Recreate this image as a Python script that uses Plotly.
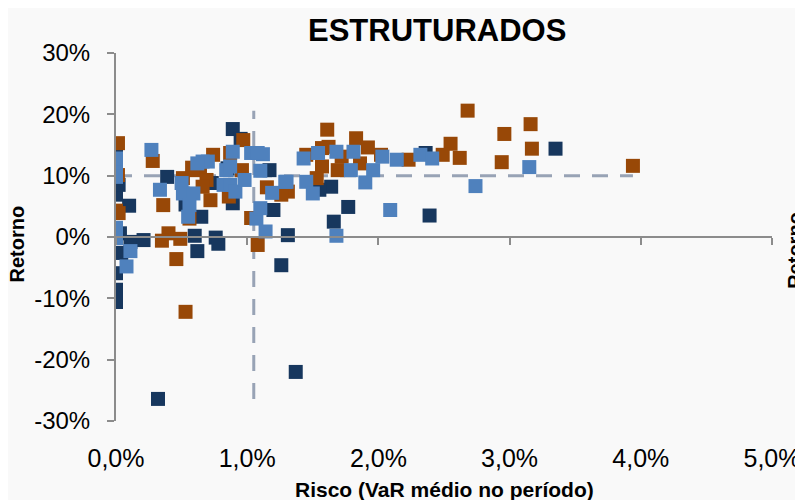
import plotly.graph_objects as go

# Risk (VaR, %) and return (%) per fund, three groups
dark_x = [0.89, 0.95, 0.0, 0.39, 0.0, 0.10, 0.03, 0.11, 0.21, 0.04, 0.60, 0.62, 0.76, 0.78,
          1.26, 1.31, 1.20, 0.53, 0.65, 0.73, 0.89, 1.17, 1.64, 1.55, 1.77, 2.39, 1.66,
          2.36, 3.35, 0.0, 0.0, 0.0, 0.32, 1.37, 0.0, 0.0, 0.02, 0.85]
dark_y = [17.6, 16.0, 14.7, 9.8, 6.9, 5.1, 0.6, -0.8, -0.5, -2.6, 0.2, -2.3, -0.1, -1.1,
          -4.6, 0.3, 4.4, 5.3, 3.3, 8.8, 5.5, 10.9, 8.2, 7.7, 4.9, 3.5, 2.5,
          13.7, 14.4, -5.9, -8.6, -10.6, -26.4, -22.0, 1.0, 12.5, 8.5, 11.2]

orange_x = [2.68, 3.16, 2.96, 2.55, 2.49, 2.62, 3.17, 2.94, 3.94, 1.61, 1.83, 1.92, 1.62,
            1.57, 1.45, 1.72, 1.86, 1.57, 1.69, 2.02, 2.23, 1.53, 1.31, 1.15, 1.26, 1.08,
            1.03, 0.96, 0.97, 0.86, 0.87, 0.74, 0.61, 0.51, 0.56, 0.72, 0.69, 0.66, 0.64,
            0.58, 0.015, 0.28, 0.015, 0.36, 0.0, 0.40, 0.35, 0.49, 0.46, 0.53, 0.02]
orange_y = [20.6, 18.4, 16.8, 15.2, 13.4, 12.9, 14.4, 12.2, 11.6, 17.5, 16.1, 14.6, 14.7,
            14.5, 13.4, 13.1, 12.0, 11.5, 10.9, 13.4, 12.6, 9.6, 7.4, 8.1, 6.9, -1.3,
            3.1, 10.9, 15.8, 6.6, 13.7, 13.4, 10.9, 9.6, 3.0, 6.0, 9.3, 8.2, 11.5,
            11.3, 15.3, 12.4, 10.1, 5.2, 4.3, 0.6, -0.6, -0.3, -3.6, -12.2, 3.9]

light_x = [0.27, 0.0, 0.0, 0.335, 0.0, 0.0, 0.11, 0.08, 0.70, 0.66, 0.50, 0.51, 0.59,
           0.56, 0.55, 0.82, 0.87, 0.91, 0.84, 0.87, 0.89, 0.98, 1.03, 1.12, 1.10, 1.19,
           1.29, 1.07, 1.14, 1.10, 1.43, 1.54, 1.68, 1.81, 1.79, 1.96, 2.03, 2.14, 2.32,
           2.41, 1.90, 1.45, 1.30, 1.50, 2.09, 1.68, 1.08, 3.15, 2.74, 0.0, 0.62]
light_y = [14.2, 11.5, 9.8, 7.7, 1.5, -0.2, -2.3, -4.8, 12.3, 12.3, 8.8, 7.1, 7.1,
           5.2, 3.3, 8.5, 8.5, 7.4, 10.9, 11.5, 13.9, 9.3, 13.7, 13.5, 10.8, 7.2,
           9.0, 3.0, 0.9, 4.7, 12.8, 13.7, 13.9, 13.9, 10.9, 10.9, 13.1, 12.6, 13.4,
           12.8, 8.9, 9.0, 9.0, 7.1, 4.4, 0.2, 13.7, 11.4, 8.3, 12.8, 12.0]

# average lines (dashed), spanning the data range
avg_risk = 1.05
avg_return = 10.0
ret_span = [-26.4, 20.6]
risk_span = [0.0, 3.94]

x_ticks = [0, 1, 2, 3, 4, 5]
x_labels = ['0,0%', '1,0%', '2,0%', '3,0%', '4,0%', '5,0%']
y_ticks = [-30, -20, -10, 0, 10, 20, 30]
y_labels = ['-30%', '-20%', '-10%', '0%', '10%', '20%', '30%']

FONT = 'Liberation Sans, Arial'
AXIS = '#8c8c8c'
DASH = '#98a3b5'

fig = go.Figure()

# dashed reference lines
fig.add_trace(go.Scatter(x=risk_span, y=[avg_return, avg_return], mode='lines',
                         line=dict(color=DASH, width=3, dash='16px,12px'),
                         showlegend=False, hoverinfo='skip'))
fig.add_trace(go.Scatter(x=[avg_risk, avg_risk], y=ret_span, mode='lines',
                         line=dict(color=DASH, width=3, dash='16px,12px'),
                         showlegend=False, hoverinfo='skip'))

for xs, ys, col in [(dark_x, dark_y, '#17375e'),
                    (orange_x, orange_y, '#984807'),
                    (light_x, light_y, '#4f81bd')]:
    fig.add_trace(go.Scatter(x=xs, y=ys, mode='markers',
                             marker=dict(symbol='square', size=14, color=col,
                                         line=dict(width=0)),
                             showlegend=False))

# axis line through y=0 with the tick marks
fig.add_trace(go.Scatter(x=[0], y=[0], xaxis='x2', mode='markers',
                         marker=dict(opacity=0), showlegend=False, hoverinfo='skip'))

# page body has an 8px margin, so the figure is sized to fit the window
fig.update_layout(
    width=795, height=492,
    margin=dict(l=108, r=31, t=45, b=79, autoexpand=False),
    paper_bgcolor='#f9f9f9',
    plot_bgcolor='rgba(0,0,0,0)',
    font=dict(family=FONT, color='black'),
    xaxis=dict(range=[0, 5], showline=False, ticks='', showgrid=False, zeroline=False,
               tickvals=x_ticks, ticktext=x_labels, tickfont=dict(size=25),
               ticklabelstandoff=20, automargin=False),
    xaxis2=dict(range=[0, 5], overlaying='x', anchor='free', position=0.5,
                showline=True, linecolor=AXIS, linewidth=2,
                ticks='outside', ticklen=7, tickwidth=2, tickcolor=AXIS,
                tickvals=x_ticks, showticklabels=False, showgrid=False, zeroline=False,
                automargin=False),
    yaxis=dict(range=[-30, 30], showline=True, linecolor=AXIS, linewidth=2,
               ticks='outside', ticklen=7, tickwidth=2, tickcolor=AXIS,
               tickvals=y_ticks, ticktext=y_labels, tickfont=dict(size=24),
               showgrid=False, zeroline=False, ticklabelstandoff=12, automargin=False),
    annotations=[
        dict(text='<b>ESTRUTURADOS</b>', x=0.489, y=1.0625, xref='paper', yref='paper',
             xanchor='center', yanchor='middle', showarrow=False, font=dict(size=31)),
        dict(text='<b>Risco (VaR médio no período)</b>', x=0.5, y=-0.1848,
             xref='paper', yref='paper', xanchor='center', yanchor='middle',
             showarrow=False, font=dict(size=21)),
        dict(text='<b>Retorno</b>', x=-0.151, y=0.482, xref='paper', yref='paper',
             xanchor='center', yanchor='middle',
             showarrow=False, textangle=-90, font=dict(size=20)),
        # label of the neighbouring chart, cut by the right edge
        dict(text='<b>Retorno</b>', x=1.035, y=0.465, xref='paper', yref='paper',
             xanchor='center', yanchor='middle',
             showarrow=False, textangle=-90, font=dict(size=20)),
    ],
)

fig.write_html('out.html')
